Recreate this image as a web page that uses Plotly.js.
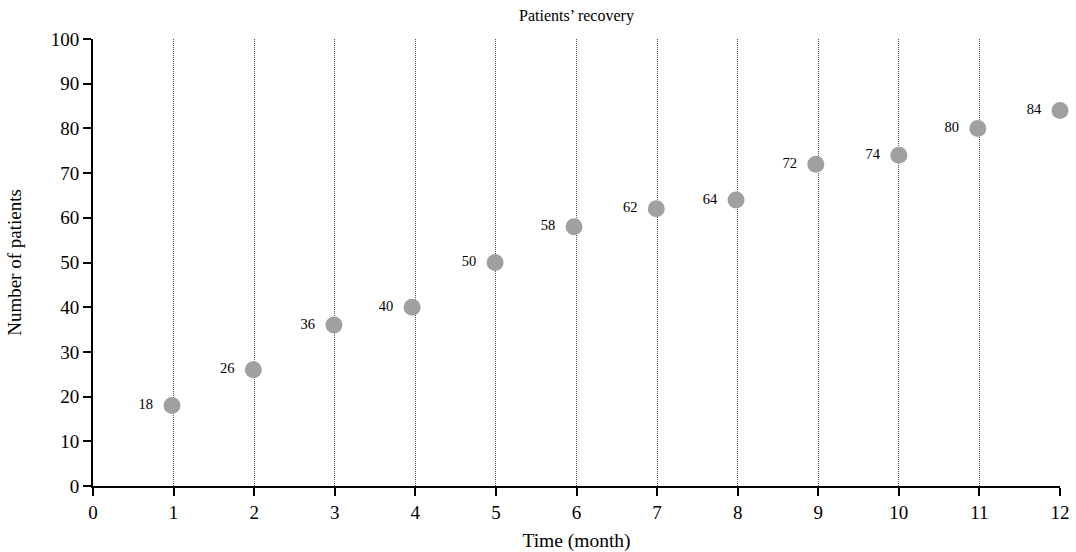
<!DOCTYPE html>
<html>
<head>
<meta charset="utf-8">
<script src="https://cdn.plot.ly/plotly-3.0.1.min.js"></script>
<style>html,body{margin:0;padding:0;background:#fff;}#chart{width:1076px;height:552px;}</style>
</head>
<body>
<div id="chart"></div>
<script>
var months = [0.98, 1.99, 2.99, 3.96, 4.99, 5.97, 6.99, 7.98, 8.97, 10.0, 10.98, 12.0];
var patients = [18, 26, 36, 40, 50, 58, 62, 64, 72, 74, 80, 84];
var labels = ["18", "26", "36", "40", "50", "58", "62", "64", "72", "74", "80", "84"];
var xTicks = [0, 1, 2, 3, 4, 5, 6, 7, 8, 9, 10, 11, 12];
var yTicks = [0, 10, 20, 30, 40, 50, 60, 70, 80, 90, 100];

var font = "Liberation Serif, Times New Roman, serif";
var trace = {
  x: months, y: patients,
  text: labels.map(function (s) { return s + "\u00a0\u00a0"; }),
  type: "scatter", mode: "markers+text",
  textposition: "middle left",
  textfont: {family: font, size: 14.5, color: "#000000"},
  marker: {size: 17, color: "#a0a0a0"},
  cliponaxis: false,
  hoverinfo: "x+y"
};
var layout = {
  width: 1076, height: 552,
  margin: {l: 93, r: 16, t: 39, b: 66},
  paper_bgcolor: "#fff", plot_bgcolor: "#fff",
  showlegend: false,
  font: {family: font, color: "#000"},
  title: {text: "Patients’ recovery", font: {family: font, size: 16, color: "#000"}, x: 0.5, xref: "paper", y: 0.973, yref: "container", yanchor: "middle"},
  xaxis: {
    range: [0, 12], tickvals: xTicks, ticktext: xTicks.map(String),
    showline: true, linecolor: "#000", linewidth: 2,
    ticks: "outside", ticklen: 8, tickwidth: 2, tickcolor: "#000",
    tickfont: {family: font, size: 19, color: "#000"},
    showgrid: true, gridcolor: "#555", gridwidth: 1, griddash: "1px,1px",
    zeroline: false,
    title: {text: "Time (month)", font: {family: font, size: 19.5, color: "#000"}, standoff: 12}
  },
  yaxis: {
    range: [0, 100], tickvals: yTicks, ticktext: yTicks.map(String),
    showline: true, linecolor: "#000", linewidth: 2,
    ticks: "outside", ticklen: 8, tickwidth: 2, tickcolor: "#000",
    tickfont: {family: font, size: 19, color: "#000"},
    showgrid: false, zeroline: false,
    title: {text: "Number of patients", font: {family: font, size: 19, color: "#000"}, standoff: 24}
  }
};
Plotly.newPlot("chart", [trace], layout, {displayModeBar: false, staticPlot: true});
</script>
</body>
</html>
